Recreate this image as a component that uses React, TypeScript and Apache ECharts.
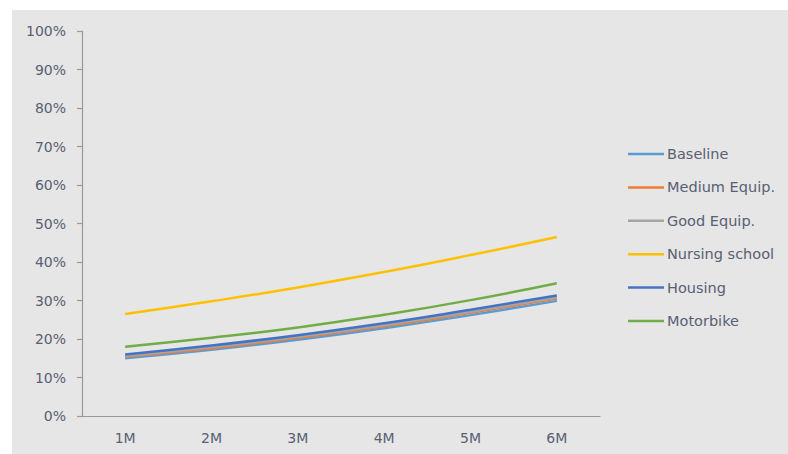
import React, { useEffect, useRef } from "react";
import * as echarts from "echarts";

const categories = ["1M", "2M", "3M", "4M", "5M", "6M"];
const seriesNames = ["Baseline", "Medium Equip.", "Good Equip.", "Nursing school", "Housing", "Motorbike"];
const baseline = [15.0, 17.2, 19.8, 22.8, 26.2, 29.9];
const mediumEquip = [15.4, 17.6, 20.3, 23.3, 26.8, 30.5];
const goodEquip = [15.6, 17.9, 20.6, 23.6, 27.1, 30.8];
const nursingSchool = [26.5, 29.8, 33.4, 37.4, 41.8, 46.5];
const housing = [16.0, 18.3, 21.0, 24.1, 27.6, 31.3];
const motorbike = [18.0, 20.3, 23.0, 26.3, 30.1, 34.5];
const colors = ["#5B9BD5", "#ED7D31", "#A5A5A5", "#FFC000", "#4472C4", "#70AD47"];

const seriesValues = [baseline, mediumEquip, goodEquip, nursingSchool, housing, motorbike];

const textColor = "#586073";
const font = "'DejaVu Sans', sans-serif";

export default function App() {
  const ref = useRef<HTMLDivElement>(null);

  useEffect(() => {
    if (!ref.current) return;
    const chart = echarts.init(ref.current, undefined, { renderer: "svg" });
    chart.setOption({
      animation: false,
      backgroundColor: "#ffffff",
      graphic: [
        {
          type: "rect",
          z: -10,
          silent: true,
          shape: { x: 12, y: 10, width: 776, height: 444 },
          style: { fill: "#e6e6e6" },
        },
      ],
      grid: { left: 82, right: 188, top: 31, bottom: 38 },
      legend: {
        orient: "vertical",
        left: 628,
        top: 146,
        padding: 0,
        icon: "rect",
        itemWidth: 36,
        itemHeight: 2.5,
        itemGap: 17.4,
        data: seriesNames,
        textStyle: { color: textColor, fontSize: 14.5, fontFamily: font, lineHeight: 16, padding: [0, 0, 0, -2] },
      },
      xAxis: {
        type: "category",
        data: categories,
        boundaryGap: true,
        axisLine: { lineStyle: { color: "#9a9a9a", width: 1.2 } },
        axisTick: { length: 6, lineStyle: { color: "#9a9a9a", width: 1.2 } },
        axisLabel: { color: textColor, fontSize: 14, fontFamily: font, margin: 15 },
      },
      yAxis: {
        type: "value",
        min: 0,
        max: 100,
        interval: 10,
        axisLine: { show: true, lineStyle: { color: "#9a9a9a", width: 1.2 } },
        axisTick: { show: true, length: 5, lineStyle: { color: "#9a9a9a", width: 1.2 } },
        splitLine: { show: false },
        axisLabel: { color: textColor, fontSize: 14, fontFamily: font, margin: 16, formatter: "{value}%" },
      },
      series: seriesNames.map((name, i) => ({
        name,
        type: "line",
        data: seriesValues[i],
        smooth: true,
        showSymbol: false,
        symbol: "none",
        color: colors[i],
        lineStyle: { width: 2.5, color: colors[i] },
      })),
    });
    return () => chart.dispose();
  }, []);

  return (
    <div style={{ position: "absolute", left: 0, top: 0, width: 788, height: 454, background: "#fff" }}>
      <div ref={ref} style={{ width: 788, height: 454 }} />
    </div>
  );
}
